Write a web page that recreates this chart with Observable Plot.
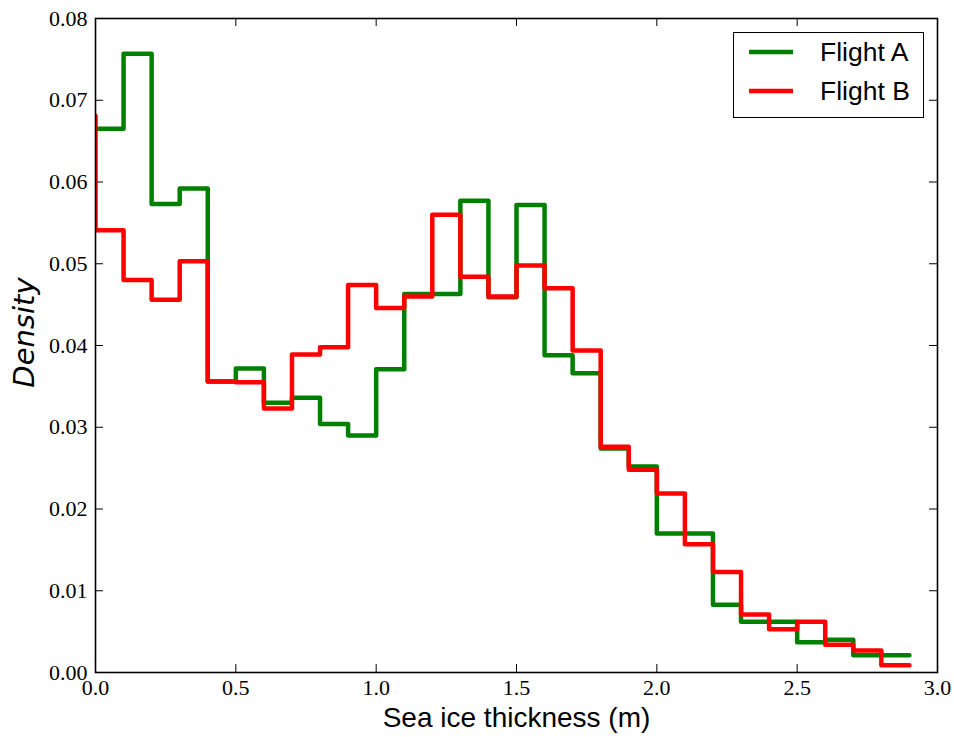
<!DOCTYPE html>
<html>
<head>
<meta charset="utf-8">
<script src="https://cdn.jsdelivr.net/npm/d3@7"></script>
<script src="https://cdn.jsdelivr.net/npm/@observablehq/plot@0.6"></script>
<style>
  body { margin: 0; background: #fff; }
  #chart { position: relative; width: 954px; height: 737px; background: #fff; }
  #legend { position: absolute; left: 733px; top: 32px; width: 189px; height: 84px;
    border: 1.5px solid #000; background: #fff;
    font-family: "Liberation Sans", Arial, sans-serif; font-size: 26.5px; color: #000; }
  .item { position: absolute; left: 0; height: 30px; width: 189px; }
  .item svg { position: absolute; left: 15px; top: 0; }
  .item span { position: absolute; left: 86px; top: 0; line-height: 30px; }
</style>
</head>
<body>
<div id="chart"></div>
<script>
// Bin left edges (m); first bin (-0.1..0) lies outside the axis and is clipped
const edges = [-0.1, 0.0, 0.1, 0.2, 0.3, 0.4, 0.5, 0.6, 0.7, 0.8, 0.9,
  1.0, 1.1, 1.2, 1.3, 1.4, 1.5, 1.6, 1.7, 1.8, 1.9,
  2.0, 2.1, 2.2, 2.3, 2.4, 2.5, 2.6, 2.7, 2.8, 2.9];

const flightA = [0.0665, 0.0665, 0.0757, 0.0573, 0.0592, 0.0356, 0.0372, 0.0330, 0.0336, 0.0304, 0.0290,
  0.0371, 0.0463, 0.0463, 0.0577, 0.0459, 0.0572, 0.0388, 0.0366, 0.0274, 0.0252,
  0.0170, 0.0170, 0.0083, 0.0062, 0.0062, 0.0037, 0.0040, 0.0021, 0.0021];

const flightB = [0.0681, 0.0541, 0.0480, 0.0456, 0.0503, 0.0356, 0.0355, 0.0323, 0.0389, 0.0398, 0.0474,
  0.0446, 0.0460, 0.0560, 0.0484, 0.0460, 0.0498, 0.0470, 0.0394, 0.0276, 0.0248,
  0.0219, 0.0157, 0.0123, 0.0071, 0.0053, 0.0062, 0.0034, 0.0027, 0.0009];

const seriesNames = ["Flight A", "Flight B"];
const seriesColors = ["#008000", "#ff0000"];

const xTicks = [0, 0.5, 1.0, 1.5, 2.0, 2.5, 3.0];
const xTickLabels = ["0.0", "0.5", "1.0", "1.5", "2.0", "2.5", "3.0"];
const yTicks = [0, 0.01, 0.02, 0.03, 0.04, 0.05, 0.06, 0.07, 0.08];
const yTickLabels = ["0.00", "0.01", "0.02", "0.03", "0.04", "0.05", "0.06", "0.07", "0.08"];

const xLabel = "Sea ice thickness (m)";
const yLabel = "Density";

function steps(vals) {
  const rows = vals.map((v, i) => ({x: edges[i], y: v}));
  rows.push({x: edges[edges.length - 1], y: vals[vals.length - 1]});
  return rows;
}

const W = 954, H = 737;
const mL = 95, mR = 17, mT = 18, mB = 65;
const innerW = W - mL - mR, innerH = H - mT - mB;
const tk = 8;

const chart = Plot.plot({
  width: W, height: H,
  marginLeft: mL, marginRight: mR, marginTop: mT, marginBottom: mB,
  style: {fontFamily: "Liberation Serif", fontSize: "22px", background: "#fff", color: "#000"},
  x: {domain: [0, 3]},
  y: {domain: [0, 0.08]},
  marks: [
    Plot.axisX(xTicks, {tickSize: 0, tickPadding: 7, fontSize: 22, fontFamily: "Liberation Serif",
      tickFormat: d => xTickLabels[xTicks.indexOf(d)], label: null}),
    Plot.axisY(yTicks, {tickSize: 0, tickPadding: 8, fontSize: 22, fontFamily: "Liberation Serif",
      tickFormat: d => yTickLabels[yTicks.indexOf(d)], label: null}),
    Plot.tickX(xTicks, {x: d => d, insetTop: innerH - tk, stroke: "#000", strokeWidth: 1}),
    Plot.tickX(xTicks, {x: d => d, insetBottom: innerH - tk, stroke: "#000", strokeWidth: 1}),
    Plot.tickY(yTicks, {y: d => d, insetRight: innerW - tk, stroke: "#000", strokeWidth: 1}),
    Plot.tickY(yTicks, {y: d => d, insetLeft: innerW - tk, stroke: "#000", strokeWidth: 1}),
    Plot.line(steps(flightA), {x: "x", y: "y", curve: "step-after", stroke: seriesColors[0],
      strokeWidth: 4.5, strokeLinejoin: "round", clip: true}),
    Plot.line(steps(flightB), {x: "x", y: "y", curve: "step-after", stroke: seriesColors[1],
      strokeWidth: 4.5, strokeLinejoin: "round", clip: true}),
    Plot.frame({stroke: "#000", strokeWidth: 1.6}),
    Plot.text([xLabel], {text: d => d, frameAnchor: "bottom", dy: 54, fontSize: 28,
      fontFamily: "Liberation Sans", fill: "#000", textAnchor: "middle"}),
    Plot.text([yLabel], {text: d => d, frameAnchor: "left", dx: -71, dy: -13, rotate: -90, fontSize: 29,
      fontFamily: "DejaVu Sans", fontStyle: "italic", fill: "#000", textAnchor: "middle"})
  ]
});

const container = document.getElementById("chart");
container.appendChild(chart);

// Legend
const legend = document.createElement("div");
legend.id = "legend";
seriesNames.forEach((name, i) => {
  const item = document.createElement("div");
  item.className = "item";
  item.style.top = (i === 0 ? 4 : 42.5) + "px";
  item.innerHTML = `<svg width="44" height="30"><line x1="0" x2="44" y1="15" y2="15" stroke="${seriesColors[i]}" stroke-width="4.5"/></svg><span>${name}</span>`;
  legend.appendChild(item);
});
container.appendChild(legend);
</script>
</body>
</html>
